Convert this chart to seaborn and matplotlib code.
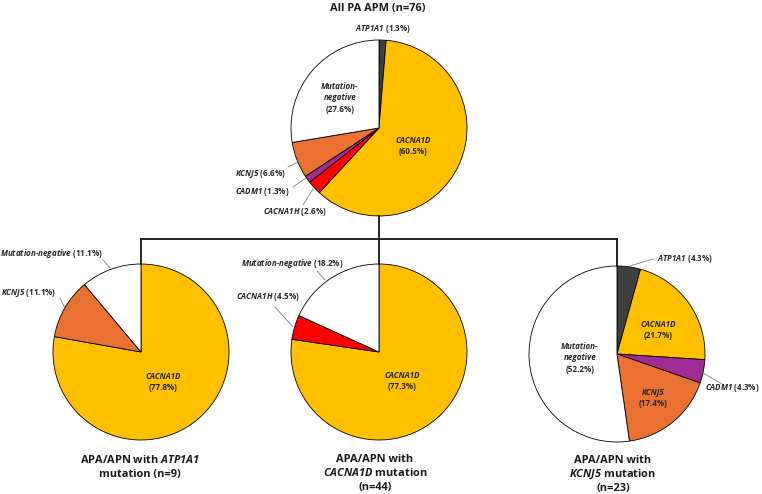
import numpy as np
import matplotlib.pyplot as plt
import seaborn as sns

W, H = 762, 494

# data (clockwise from 12 o'clock)
all_genes = ['ATP1A1', 'CACNA1D', 'CACNA1H', 'CADM1', 'KCNJ5', 'Mutation-negative']
all_pct = [1.3, 60.5, 2.6, 1.3, 6.6, 27.6]

atp_genes = ['CACNA1D', 'KCNJ5', 'Mutation-negative']
atp_pct = [77.8, 11.1, 11.1]

cac_genes = ['CACNA1D', 'CACNA1H', 'Mutation-negative']
cac_pct = [77.3, 4.5, 18.2]

kcn_genes = ['ATP1A1', 'CACNA1D', 'CADM1', 'KCNJ5', 'Mutation-negative']
kcn_pct = [4.3, 21.7, 4.3, 17.4, 52.2]

gene_colors = {'ATP1A1': '#3f3f3f', 'CACNA1D': '#FFC000', 'CACNA1H': '#FF0000',
               'CADM1': '#A02B93', 'KCNJ5': '#E97132', 'Mutation-negative': '#FFFFFF'}

sns.set_theme(style='white')
plt.rcParams['font.family'] = ['Open Sans', 'DejaVu Sans']
# italic gene names inside mixed strings go through mathtext
# (digits fall back to the rm font, so make that bold italic as well)
plt.rcParams['mathtext.fontset'] = 'custom'
plt.rcParams['mathtext.it'] = 'Open Sans:bold:italic'
plt.rcParams['mathtext.rm'] = 'Open Sans:bold:italic'
plt.rcParams['mathtext.bf'] = 'Open Sans:bold'

fig = plt.figure(figsize=(7.62, 4.94), dpi=100)
ax = fig.add_axes([0, 0, 1, 1])

R = 88
LBL = 5.8      # label size
TTL = 7.9      # title size


def it(s):
    return '-'.join('$\\mathit{' + w + '}$' for w in s.split('-'))


def draw_pie(genes, pct, cx, cy):
    ax.pie(pct, colors=[gene_colors[g] for g in genes], startangle=90,
           counterclock=False, center=(cx, H - cy), radius=R,
           wedgeprops=dict(edgecolor='black', linewidth=0.6))


def txt(x, y, s, size=LBL, ha='center', italic=False, color='#262626'):
    ax.text(x, H - y, s, fontsize=size, fontweight='bold', color=color,
            fontstyle='italic' if italic else 'normal', ha=ha, va='center')


def inner(x, y, gene, p, step=11.5):
    lines = [(gene, True), (f'({p}%)', False)]
    if gene == 'Mutation-negative':
        lines = [('Mutation-', True), ('negative', True), (f'({p}%)', False)]
    y0 = y - step * (len(lines) - 1) / 2
    for i, (s, itl) in enumerate(lines):
        txt(x, y0 + i * step, s, italic=itl)


def outer(x, y, gene, p, ha='center'):
    txt(x, y, it(gene) + f' ({p}%)', ha=ha)


def title(x, y, s):
    txt(x, y, s, size=TTL, color='#1a1a1a')


def leader(x1, y1, x2, y2):
    ax.plot([x1, x2], [H - y1, H - y2], color='#7f7f7f', lw=0.6)


# tree connectors
ax.plot([379, 379], [H - 216, H - 239], color='black', lw=1.2)
ax.plot([141, 617], [H - 239, H - 239], color='black', lw=1.2)
for xc, yb in [(141, 264), (379, 264), (617, 266)]:
    ax.plot([xc, xc], [H - 239, H - yb], color='black', lw=1.2)

# top pie
draw_pie(all_genes, all_pct, 379, 128)
title(378, 9, 'All PA APM (n=76)')
outer(383, 29, all_genes[0], all_pct[0])
inner(413, 146, all_genes[1], all_pct[1])
outer(327, 212, all_genes[2], all_pct[2], ha='right')
leader(303, 205, 313, 189)
outer(290, 192, all_genes[3], all_pct[3], ha='right')
leader(293, 187, 306, 178)
outer(286, 174, all_genes[4], all_pct[4], ha='right')
leader(288, 167, 298, 162)
inner(340, 98, all_genes[5], all_pct[5])

# ATP1A1 pie
draw_pie(atp_genes, atp_pct, 141, 352)
inner(163, 382, atp_genes[0], atp_pct[0])
outer(56, 293, atp_genes[1], atp_pct[1], ha='right')
leader(60, 298, 65, 308)
outer(103, 254, atp_genes[2], atp_pct[2], ha='right')
leader(103, 260, 110, 268)
title(140, 460, 'APA/APN with ' + it('ATP1A1'))
title(140, 474, 'mutation (n=9)')

# CACNA1D pie
draw_pie(cac_genes, cac_pct, 379, 352)
inner(402, 381, cac_genes[0], cac_pct[0])
outer(300, 297, cac_genes[1], cac_pct[1], ha='right')
leader(275, 307, 293, 327)
outer(343, 263, cac_genes[2], cac_pct[2], ha='right')
leader(317, 271, 325, 280)
title(375, 459, 'APA/APN with')
title(375, 473, it('CACNA1D') + ' mutation')
title(375, 487, '(n=44)')

# KCNJ5 pie
draw_pie(kcn_genes, kcn_pct, 617, 354)
outer(657, 259, kcn_genes[0], kcn_pct[0], ha='left')
leader(653, 259, 630, 266)
inner(658, 330, kcn_genes[1], kcn_pct[1])
outer(705, 388, kcn_genes[2], kcn_pct[2], ha='left')
leader(703, 373, 722, 384)
inner(653, 398, kcn_genes[3], kcn_pct[3])
inner(580, 358, kcn_genes[4], kcn_pct[4])
title(613, 460, 'APA/APN with')
title(613, 474, it('KCNJ5') + ' mutation')
title(613, 488, '(n=23)')

ax.set_xlim(0, W)
ax.set_ylim(0, H)
ax.set_aspect('equal')
ax.axis('off')

fig.savefig('out.png', dpi=100, facecolor='white')
